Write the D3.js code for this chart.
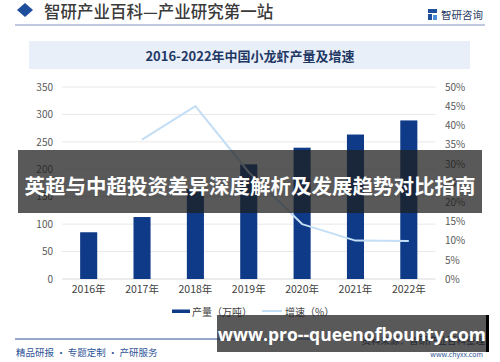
<!DOCTYPE html>
<meta charset="utf-8">
<head>
<style>
    body {margin: 0; background: #fff; font-family: "Noto Sans CJK SC", "Noto Sans", sans-serif;}
    svg text {font-family: "Noto Sans CJK SC", "Noto Sans", sans-serif;}
</style>
<script src="https://d3js.org/d3.v7.min.js"></script>
</head>
<body>
    <div id="chart"></div>
<script>

var years = ["2016年", "2017年", "2018年", "2019年", "2020年", "2021年", "2022年"];
var output = [85.2, 112.97, 163.87, 208.96, 239.37, 263.36, 289.07];   // 产量（万吨）
var growth = [null, 36.3, 45.0, 27.8, 14.3, 10.0, 9.9];                // 增速（%）
var leftTicks = [0, 50, 100, 150, 200, 250, 300, 350];
var rightTicks = [0, 5, 10, 15, 20, 25, 30, 35, 40, 45, 50];

var width = 500, height = 362;
var barColor = "#0f3a87";
var lineColor = "#c3def5";
var navy = "#1f3864";

var svg = d3.select("#chart").append("svg")
    .attr("width", width)
    .attr("height", height);

// header
svg.append("path")
    .attr("d", "M25,3 L33,10 L25,17 L17,10 Z")
    .style("fill", "#1f4e9c");
svg.append("text")
    .attr("x", 44).attr("y", 11)
    .attr("dominant-baseline", "central")
    .style("font-size", "16.5px").style("font-weight", "500")
    .style("fill", "#3a3a3a")
    .text("智研产业百科—产业研究第一站");
svg.append("line")
    .attr("x1", 15).attr("x2", 485).attr("y1", 25).attr("y2", 25)
    .style("stroke", "#aab8d6").style("stroke-width", 1.5);

// logo
var logo = svg.append("g").attr("transform", "translate(428,9)");
logo.append("rect").attr("x", 0).attr("y", 0).attr("width", 9).attr("height", 4).style("fill", "#1f4e9c");
logo.append("rect").attr("x", 0).attr("y", 5).attr("width", 4).attr("height", 6).style("fill", "#1f4e9c");
logo.append("rect").attr("x", 5).attr("y", 6).attr("width", 4).attr("height", 5).style("fill", "#4a8fd8");
svg.append("text")
    .attr("x", 441).attr("y", 14)
    .attr("dominant-baseline", "central")
    .style("font-size", "10.5px").style("fill", navy)
    .text("智研咨询");

// title box
svg.append("rect")
    .attr("x", 29).attr("y", 41).attr("width", 441).attr("height", 28)
    .style("fill", "#e9eff9");
svg.append("text")
    .attr("x", 250).attr("y", 55)
    .attr("text-anchor", "middle").attr("dominant-baseline", "central")
    .style("font-size", "13px").style("font-weight", "700")
    .style("fill", navy)
    .text("2016-2022年中国小龙虾产量及增速");

// scales
var x = d3.scaleBand().domain(years).range([62, 435.5]).paddingInner(0.68).paddingOuter(0.34);
var y = d3.scaleLinear().domain([0, 350]).range([279, 87]);
var y2 = d3.scaleLinear().domain([0, 50]).range([279, 87]);

// gridlines
svg.append("g").selectAll("line")
    .data(leftTicks)
    .enter().append("line")
    .attr("x1", 62).attr("x2", 435.5)
    .attr("y1", function(d) { return y(d); })
    .attr("y2", function(d) { return y(d); })
    .style("stroke", function(d) { return d == 0 ? "#d9d9d9" : "#e8e8e8"; })
    .style("stroke-width", 1);

// left axis
var leftAxis = svg.append("g")
    .attr("transform", "translate(53,0)")
    .call(d3.axisLeft(y).tickValues(leftTicks).tickSize(0).tickPadding(0));
leftAxis.select(".domain").remove();
leftAxis.selectAll("text").style("font-size", "10px").style("fill", "#595959");

// right axis
var rightAxis = svg.append("g")
    .attr("transform", "translate(445,0)")
    .call(d3.axisRight(y2).tickValues(rightTicks).tickSize(0).tickPadding(0)
        .tickFormat(function(d) { return d + "%"; }));
rightAxis.select(".domain").remove();
rightAxis.selectAll("text").style("font-size", "10px").style("fill", "#595959");

// x axis
var xAxis = svg.append("g")
    .attr("transform", "translate(0,284)")
    .call(d3.axisBottom(x).tickSize(0).tickPadding(2));
xAxis.select(".domain").remove();
xAxis.selectAll("text").style("font-size", "10.5px").style("fill", "#404040");

// bars
svg.append("g").selectAll("rect")
    .data(output)
    .enter().append("rect")
    .attr("x", function(d, i) { return x(years[i]); })
    .attr("y", function(d) { return y(d); })
    .attr("width", x.bandwidth())
    .attr("height", function(d) { return y(0) - y(d); })
    .style("fill", barColor);

// growth line
var pts = growth.map(function(d, i) { return {yr: years[i], v: d}; })
    .filter(function(d) { return d.v != null; });
var line = d3.line()
    .x(function(d) { return x(d.yr) + x.bandwidth() / 2; })
    .y(function(d) { return y2(d.v); });
svg.append("path")
    .datum(pts)
    .attr("d", line)
    .style("fill", "none")
    .style("stroke", lineColor)
    .style("stroke-width", 2)
    .style("stroke-linejoin", "round");

// legend
svg.append("rect").attr("x", 172).attr("y", 309.5).attr("width", 18).attr("height", 3.5).style("fill", barColor);
svg.append("text").attr("x", 192).attr("y", 311).attr("dominant-baseline", "central")
    .style("font-size", "10px").style("fill", "#404040").text("产量（万吨）");
svg.append("line").attr("x1", 262).attr("x2", 282).attr("y1", 311).attr("y2", 311)
    .style("stroke", lineColor).style("stroke-width", 2);
svg.append("text").attr("x", 285).attr("y", 311).attr("dominant-baseline", "central")
    .style("font-size", "10px").style("fill", "#404040").text("增速（%）");

// footer
svg.append("line").attr("x1", 15).attr("x2", 320).attr("y1", 339).attr("y2", 339)
    .style("stroke", "#2f5597").style("stroke-width", 1);
svg.append("text").attr("x", 16).attr("y", 352).attr("dominant-baseline", "central")
    .style("font-size", "9.5px").style("fill", "#2f5597").text("精品研报 · 专题定制 · 产研服务");
svg.append("text").attr("x", 485).attr("y", 340).attr("text-anchor", "end").attr("dominant-baseline", "central")
    .style("font-size", "9.5px").style("fill", navy).text("资料来源：智研产业百科整理");
svg.append("text").attr("x", 483).attr("y", 354).attr("text-anchor", "end").attr("dominant-baseline", "central")
    .style("font-size", "7px").style("fill", "#2f5597").text("www.chyxx.com");

// overlay banners
svg.append("rect").attr("x", 18).attr("y", 150).attr("width", 464).attr("height", 63)
    .style("fill", "rgb(31,31,31)").style("fill-opacity", 0.74);
svg.append("text").attr("x", 250).attr("y", 185)
    .attr("text-anchor", "middle").attr("dominant-baseline", "central")
    .style("font-size", "20.5px").style("font-weight", "700").style("fill", "#fff")
    .text("英超与中超投资差异深度解析及发展趋势对比指南");

svg.append("rect").attr("x", 217).attr("y", 315).attr("width", 271).attr("height", 37)
    .style("fill", "rgb(31,31,31)").style("fill-opacity", 0.74);
svg.append("rect").attr("x", 486).attr("y", 315).attr("width", 3).attr("height", 37)
    .style("fill", "#000");
svg.append("text").attr("x", 352).attr("y", 334)
    .attr("text-anchor", "middle").attr("dominant-baseline", "central")
    .style("font-family", "'Open Sans', 'Noto Sans', sans-serif")
    .style("font-size", "17.5px").style("font-weight", "700").style("fill", "#fff")
    .text("www.pro--queenofbounty.com");

</script>
</body>
